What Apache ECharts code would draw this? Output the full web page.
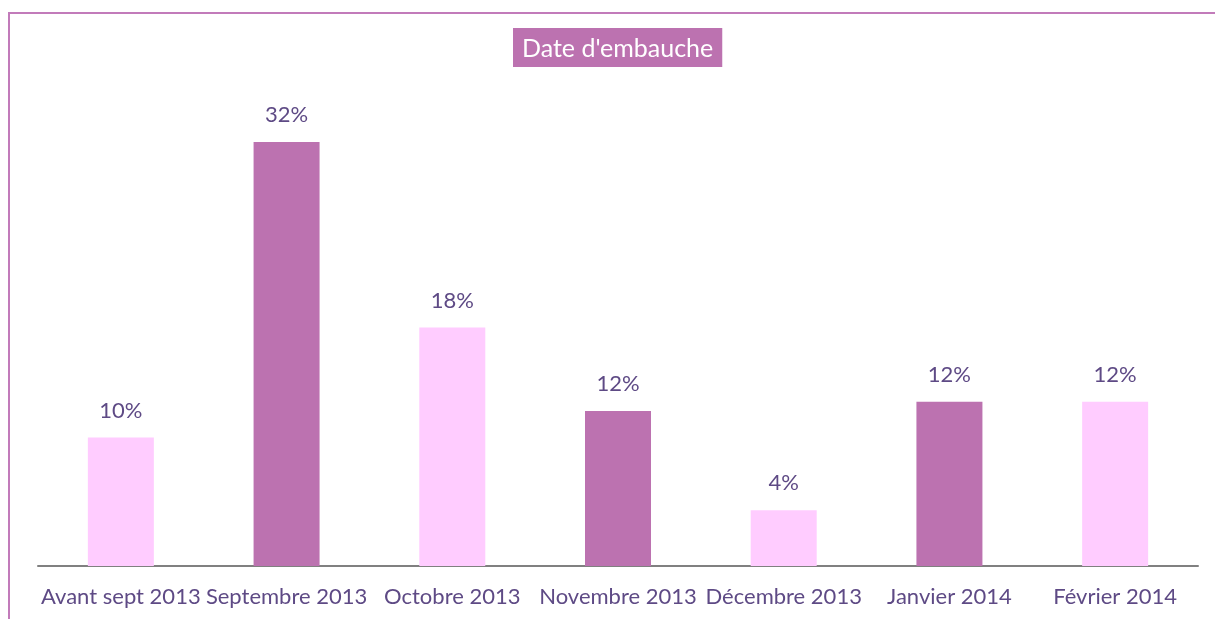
<!DOCTYPE html>
<html><head><meta charset="utf-8">
<script src="https://cdn.jsdelivr.net/npm/echarts@6/dist/echarts.min.js"></script>
<style>html,body{margin:0;padding:0;background:#fff}#c{width:1215px;height:619px}</style>
</head><body><div id="c"></div>
<script>
var categories = ['Avant sept 2013','Septembre 2013','Octobre 2013','Novembre 2013','Décembre 2013','Janvier 2014','Février 2014'];
var values = [9.7, 32, 18, 11.7, 4.2, 12.4, 12.4];
var barColors = ['#FFCCFF','#BC72B0','#FFCCFF','#BC72B0','#FFCCFF','#BC72B0','#FFCCFF'];
var titleText = "Date d'embauche";

var chart = echarts.init(document.getElementById('c'), null, {renderer:'canvas'});
chart.setOption({
  backgroundColor:'#fff',
  animation:false,
  title:{text:titleText,left:513,top:28,backgroundColor:'#BC72B0',padding:[8,9,6,9],
    textStyle:{color:'#fff',fontSize:25,fontWeight:'normal',fontFamily:'Lato'}},
  graphic:[{type:'rect',shape:{x:9,y:13,width:1215,height:620},style:{fill:'none',stroke:'#C27BBA',lineWidth:2},silent:true}],
  grid:{left:38,right:17,top:36,bottom:53},
  xAxis:{type:'category',data:categories,
    axisLine:{lineStyle:{color:'#808080',width:2}},axisTick:{show:false},
    axisLabel:{color:'#5E4A85',fontSize:22,fontFamily:'Lato',margin:20,interval:0}},
  yAxis:{type:'value',min:0,max:40,show:false,splitLine:{show:false}},
  series:[{type:'bar',barWidth:66,
    data:values.map(function(v,i){return {value:v,itemStyle:{color:barColors[i]}};}),
    label:{show:true,position:'top',distance:16,color:'#5E4A85',fontSize:22,fontFamily:'Lato',
      formatter:function(p){return Math.round(p.value)+'%';}}}]
});
</script></body></html>
